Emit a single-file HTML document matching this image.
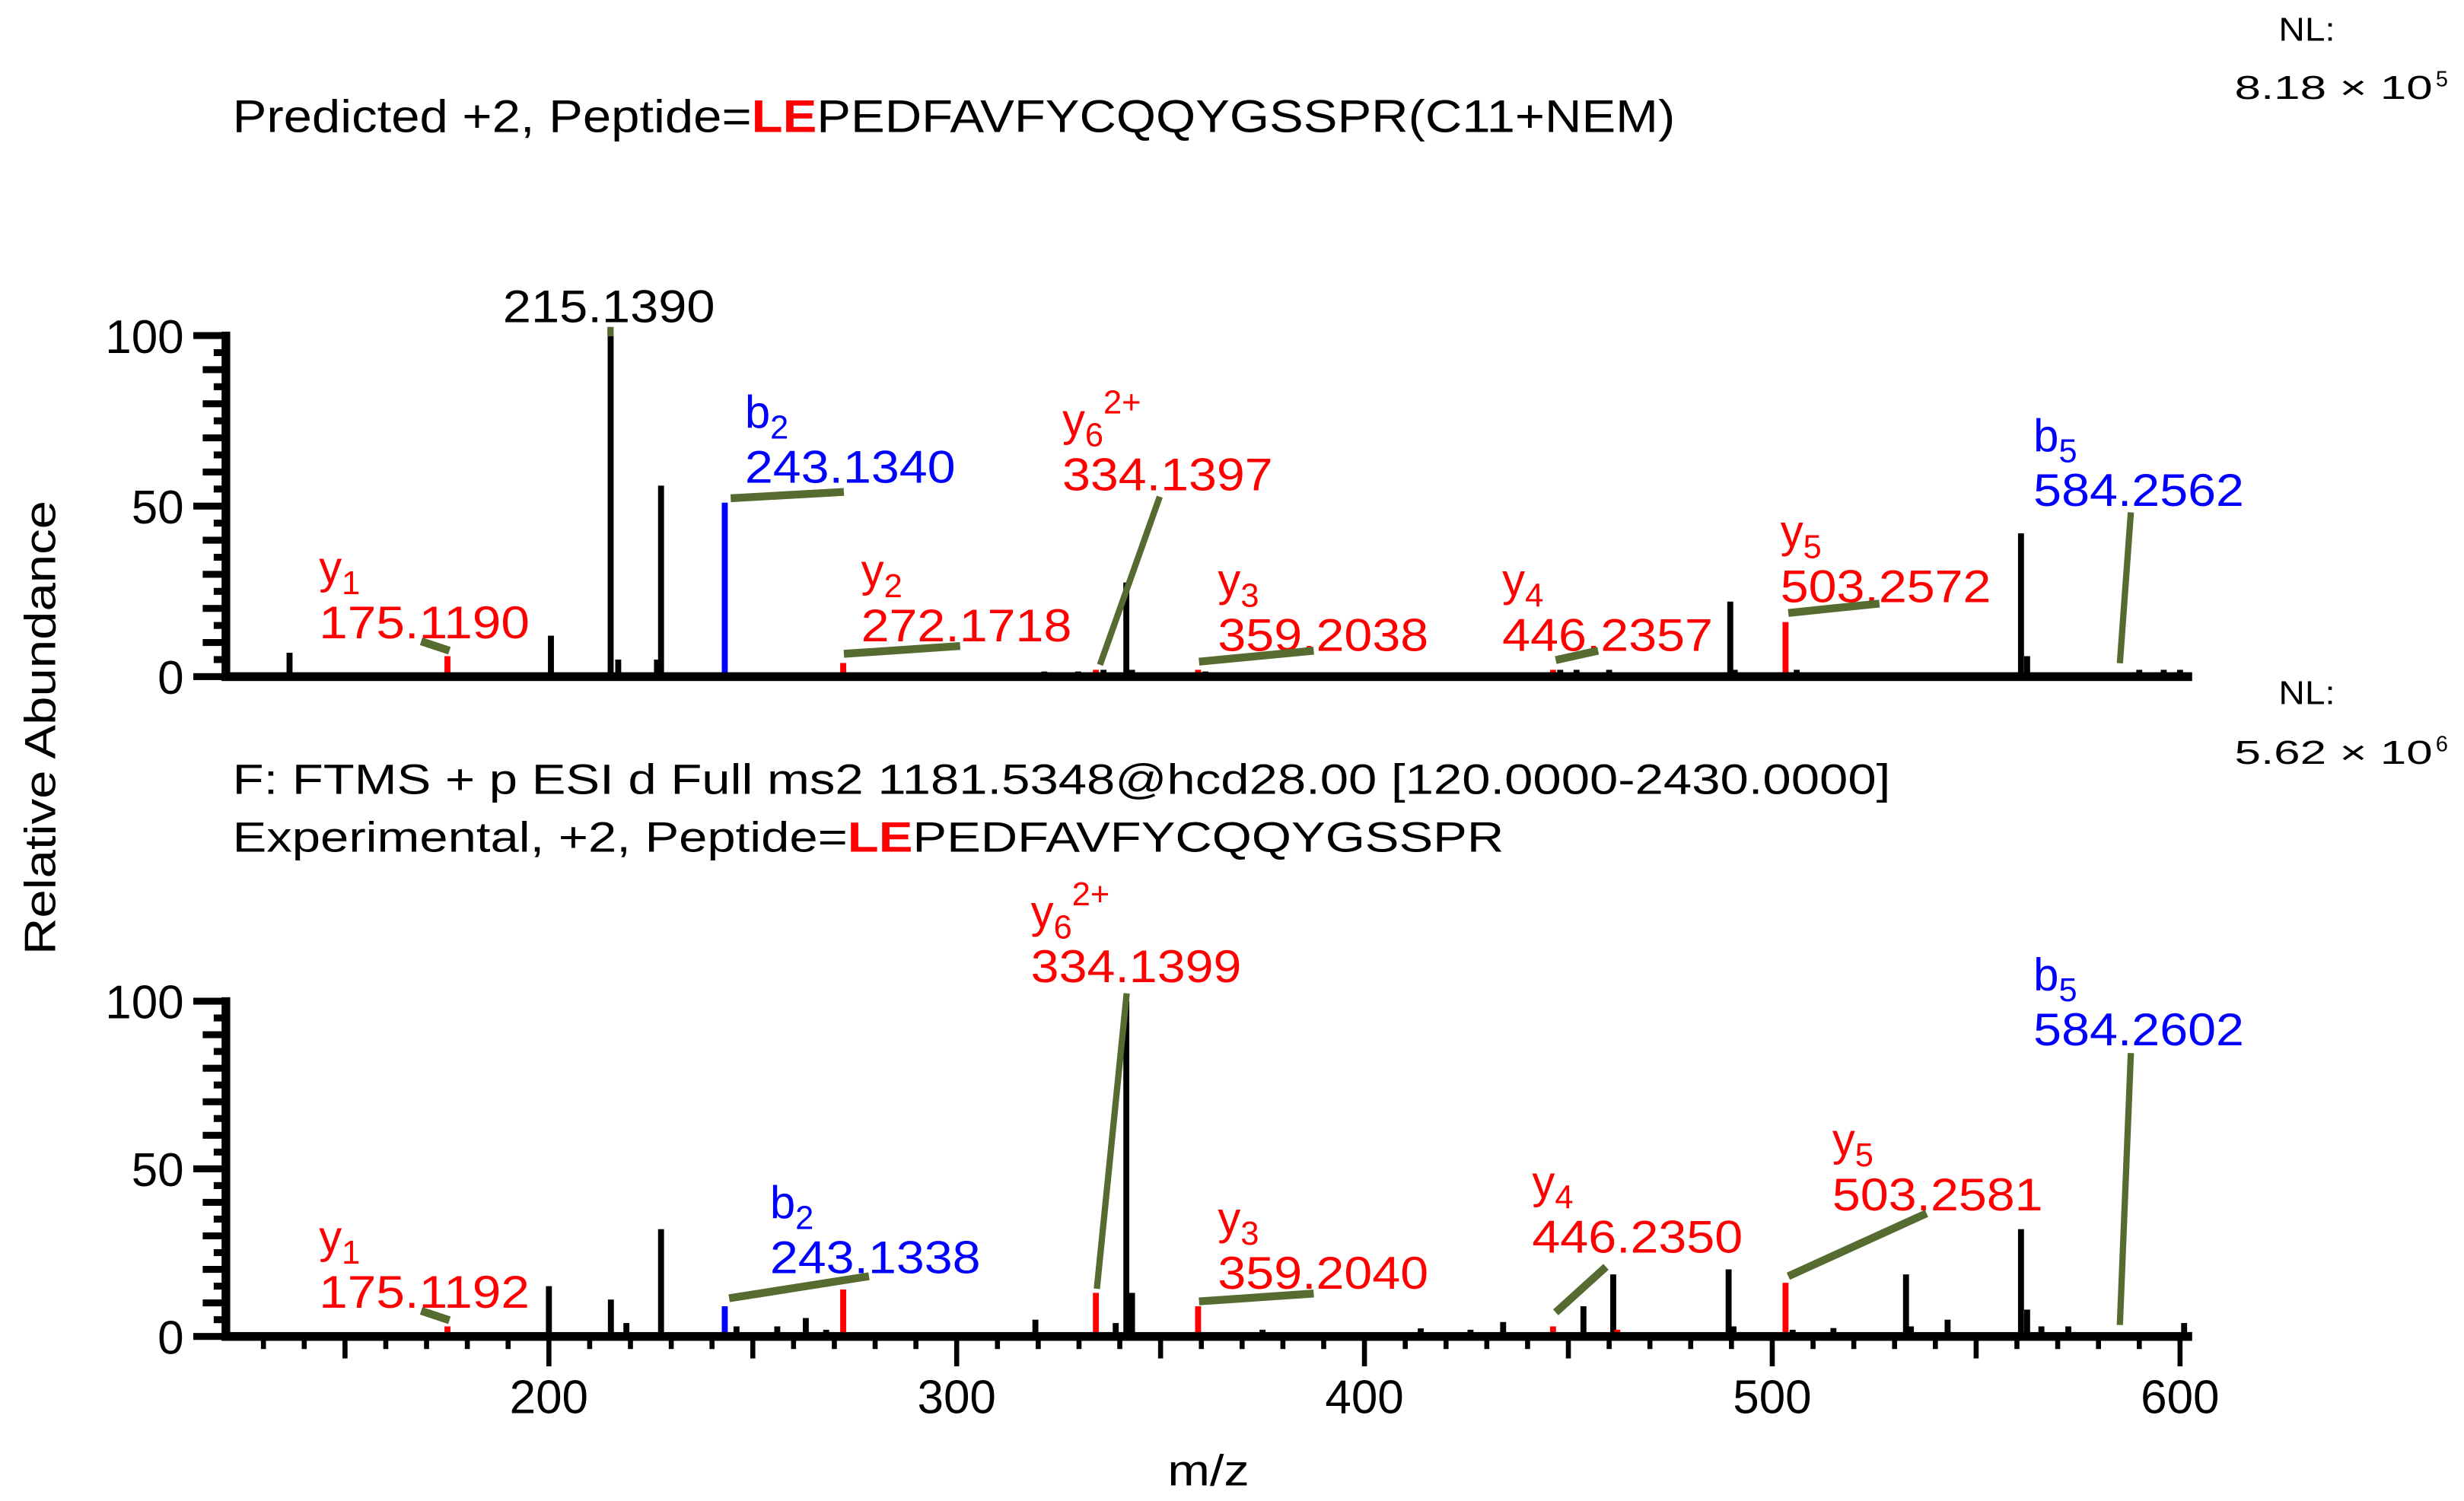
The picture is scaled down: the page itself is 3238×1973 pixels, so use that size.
<!DOCTYPE html>
<html><head><meta charset="utf-8"><style>
html,body{margin:0;padding:0;background:#fff}
svg{display:block}
text{font-family:"Liberation Sans",Arial,sans-serif}
</style></head><body>
<svg id="chart" xmlns="http://www.w3.org/2000/svg" width="3238" height="1973" viewBox="0 0 1568 955" preserveAspectRatio="none">
<g id="texts">
<text x="148" y="84" font-size="29" textLength="918" lengthAdjust="spacingAndGlyphs">Predicted +2, Peptide=<tspan fill="#ff0000" font-weight="bold">LE</tspan>PEDFAVFYCQQYGSSPR(C11+NEM)</text>
<text x="1450" y="26" font-size="21" textLength="36" lengthAdjust="spacingAndGlyphs">NL:</text>
<text x="1422" y="63" font-size="21" textLength="126" lengthAdjust="spacingAndGlyphs">8.18 × 10</text>
<text x="1550" y="55" font-size="14">5</text>
<text x="1450" y="448" font-size="21" textLength="36" lengthAdjust="spacingAndGlyphs">NL:</text>
<text x="1422" y="486" font-size="21" textLength="126" lengthAdjust="spacingAndGlyphs">5.62 × 10</text>
<text x="1550" y="478" font-size="14">6</text>
<text x="148" y="505" font-size="27" textLength="1055" lengthAdjust="spacingAndGlyphs">F: FTMS + p ESI d Full ms2 1181.5348@hcd28.00 [120.0000-2430.0000]</text>
<text x="148" y="542" font-size="27" textLength="809" lengthAdjust="spacingAndGlyphs">Experimental, +2, Peptide=<tspan fill="#ff0000" font-weight="bold">LE</tspan>PEDFAVFYCQQYGSSPR</text>
<text transform="translate(35,463) rotate(-90)" text-anchor="middle" font-size="28" textLength="289" lengthAdjust="spacingAndGlyphs">Relative Abundance</text>
<text x="769" y="945" text-anchor="middle" font-size="28" textLength="52" lengthAdjust="spacingAndGlyphs">m/z</text>
</g>
<g id="marks"></g>
</svg>
<script>
// ---- data ----
const topMz  = [136.4,142,150,170,175.12,183,190,197,200.5,210,215.14,217,220,226.5,227.5,233,243.13,246,252,258,261,265,272.17,275,285,300,306,310,321.5,329.8,334.14,336,341.6,343,359.2,361,403,420,440,446.24,448,452,460,462,469.4,489.7,490.8,503.26,506,520,528,537,547,561,562.5,584.26,590,596,600];
const topInt = [7,1,1,1,6,1,1,1,12,1,100,5,1,5,56,1,51,1,1,1,1,1,4,1,1,1,1,1,1.5,1.5,2,2,27.6,2,2,1.5,1,1,1,2,2,2,2,1,1,22,2,16,2,1,1,1,1,42,6,1,2,2,2];
const topType= ['k','k','k','k','y','k','k','k','k','k','k','k','k','k','k','k','b','k','k','k','k','k','y','k','k','k','k','k','k','k','y','k','k','k','y','k','k','k','k','y','k','k','k','k','b','k','k','y','k','k','k','k','k','k','k','b','k','k','k'];
const botMz  = [175.12,200,209,215.2,219,227.5,235,243.13,246,256,263,268,272.17,278,289,301,319.3,324,334.14,339,341.6,343,359.2,375,392.8,413.8,426,434,446.24,447.5,453.7,461,462,471.8,489.3,490.5,503.26,505,515,532.8,534,543,561,562.5,566,572.6,601];
const botInt = [3,15,1,11,4,32,1,9,3,3,5.5,2,14,1,1,1,5,1,13,4,100,13,9,2,1,2.4,2,4.3,3,1,9,18.5,2,1,20,3,16,2,2.5,18.5,3,5,32,8,3,3,4];
const botType= ['y','k','k','k','k','k','k','b','k','k','k','k','y','k','k','k','k','k','y','k','k','k','y','k','k','k','k','k','y','k','k','k','y','k','k','k','y','k','k','k','k','k','k','k','k','k','k'];
const yTicks = [0,50,100];
const xTicks = [200,300,400,500,600];

// ---- axes ----
const xOf = m => 349.3 + (m - 200) * 2.595;
const panels = [{name:'predicted', y0:430.5, y100:213.5, xt:false},{name:'experimental', y0:850.3, y100:637, xt:true}];
const yOf = (p, v) => p.y0 - (p.y0 - p.y100) * v / 100;
const NS = 'http://www.w3.org/2000/svg';
const marks = document.getElementById('marks');
const colors = {k:'#000000', y:'#ff0000', b:'#0000ff'};
function mk(tag, attrs, parent){const e=document.createElementNS(NS,tag);for(const k in attrs)e.setAttribute(k,attrs[k]);(parent||marks).appendChild(e);return e;}

panels.forEach((p, pi) => {
  const g = mk('g', {});
  
  
  const mz = pi === 0 ? topMz : botMz, it = pi === 0 ? topInt : botInt, ty = pi === 0 ? topType : botType;
  for (let i = 0; i < mz.length; i++) {
    const x = xOf(mz[i]);
    const r = mk('rect', {x: x - 1.9, y: yOf(p, it[i]), width: 3.8, height: p.y0 - yOf(p, it[i]), fill: colors[ty[i]]}, g);
    
    
  }
  const ya = mk('rect', {x: 141, y: p.y100 - 2.5, width: 5.5, height: p.y0 - p.y100 + 5, fill: '#000'}, g);
  
  
  for (let v = 0; v <= 100; v += 5) {
    const len = v % 50 === 0 ? 20 : (v % 10 === 0 ? 14 : 7);
    mk('rect', {x: 143 - len, y: yOf(p, v) - 2.2, width: len, height: 4.4, fill: '#000'}, g);
  }
  yTicks.forEach(v => {
    const t = mk('text', {x: 117, y: yOf(p, v) + 11, 'text-anchor': 'end', 'font-size': 30}, g);
    
    
    t.textContent = v;
  });
  const xa = mk('rect', {x: 141, y: p.y0 - 2.8, width: 1254, height: 5.6, fill: '#000'}, g);
  
  
  if (p.xt) {
    for (let m = 130; m <= 600; m += 10) {
      const len = m % 100 === 0 ? 19 : (m % 50 === 0 ? 14 : 8);
      mk('rect', {x: xOf(m) - 1.6, y: p.y0, width: 3.2, height: len, fill: '#000'}, g);
    }
    xTicks.forEach(m => {
      const t = mk('text', {x: xOf(m), y: 899, 'text-anchor': 'middle', 'font-size': 30}, g);
      
      
      t.textContent = m;
    });
  }
});

// ---- annotations ----
const OL = '#556b2f';
function lead(x1,y1,x2,y2,w){const l=mk('line',{x1,y1,x2,y2,stroke:OL,'stroke-width':w||5});

}
function lab(x,y,ion,sub,sup,val,color){
  const g=mk('g',{});
  
  
  const t1=mk('text',{x,y:y-35,'font-size':29,fill:color},g);
  t1.innerHTML=ion+'<tspan font-size="21" dy="7">'+sub+'</tspan>'+(sup?'<tspan font-size="21" dy="-21">'+sup+'</tspan>':'');
  const t2=mk('text',{x,y,'font-size':29,fill:color,textLength:134,lengthAdjust:'spacingAndGlyphs'},g);
  t2.textContent=val;
}
const t0=mk('text',{x:320,y:205,'font-size':29,textLength:135,lengthAdjust:'spacingAndGlyphs'});


t0.textContent='215.1390';
lead(388.5,208,388.5,214,4);
lab(203,406,'y','1','','175.1190','#ff0000'); lead(268,408,286,414);
lab(474,307,'b','2','','243.1340','#0000ff'); lead(465,317,537,313);
lab(548,408,'y','2','','272.1718','#ff0000'); lead(537,416,611,411);
lab(676,312,'y','6','2+','334.1397','#ff0000'); lead(738,316,700,423,4);
lab(775,414,'y','3','','359.2038','#ff0000'); lead(763,421,836,414);
lab(956,414,'y','4','','446.2357','#ff0000'); lead(990,420,1017,414);
lab(1133,383,'y','5','','503.2572','#ff0000'); lead(1138,390,1196,384);
lab(1294,322,'b','5','','584.2562','#0000ff'); lead(1356,326,1349,422,4);
lab(656,625,'y','6','2+','334.1399','#ff0000'); lead(717,632,698,820,4);
lab(1294,665,'b','5','','584.2602','#0000ff'); lead(1356,670,1349,843,4);
lab(203,832,'y','1','','175.1192','#ff0000'); lead(268,834,286,840);
lab(490,810,'b','2','','243.1338','#0000ff'); lead(464,826,553,812);
lab(775,820,'y','3','','359.2040','#ff0000'); lead(763,828,836,823);
lab(975,797,'y','4','','446.2350','#ff0000'); lead(990,835,1022,806);
lab(1166,770,'y','5','','503.2581','#ff0000'); lead(1138,812,1226,772);
</script>
</body></html>
